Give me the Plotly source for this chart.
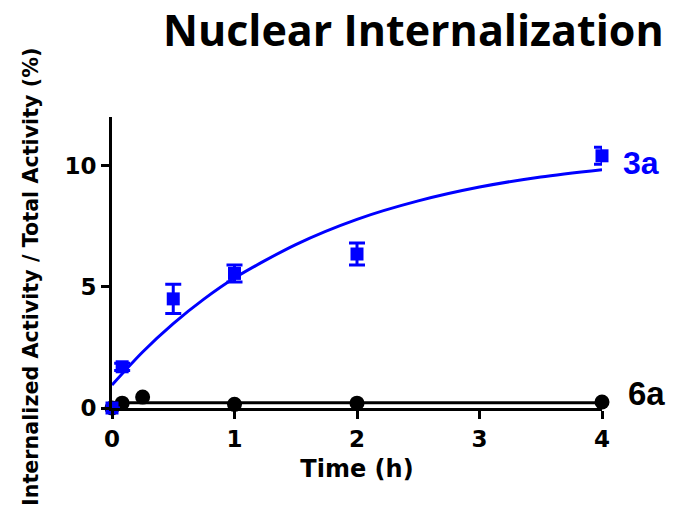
import plotly.graph_objects as go

# Time points (h) and internalized fraction (%) for each compound
time_3a = [0, 0.083, 0.5, 1, 2, 4]
mean_3a = [0, 1.7, 4.5, 5.55, 6.35, 10.4]
sd_3a = [0, 0.15, 0.6, 0.35, 0.45, 0.35]

time_6a = [0, 0.083, 0.25, 1, 2, 4]
mean_6a = [0, 0.2, 0.45, 0.15, 0.2, 0.25]

# Fitted curves (one-phase association for 3a, flat line for 6a)
fit_t_3a = [0, 0.25, 0.5, 0.75, 1, 1.5, 2, 2.5, 3, 3.5, 4]
fit_y_3a = [0.95, 2.31, 3.48, 4.49, 5.36, 6.74, 7.78, 8.54, 9.11, 9.53, 9.83]
fit_t_6a = [0, 4]
fit_y_6a = [0.22, 0.22]

x_ticks = [0, 1, 2, 3, 4]
y_ticks = [0, 5, 10]

BLUE = "#0000ff"
BLACK = "#000000"
TICK_FONT = dict(family="DejaVu Sans", size=23, color=BLACK, weight="bold")

fig = go.Figure()

fig.add_trace(go.Scatter(
    x=fit_t_6a, y=fit_y_6a, mode="lines", line=dict(color=BLACK, width=3),
    cliponaxis=False, showlegend=False))
fig.add_trace(go.Scatter(
    x=time_6a, y=mean_6a, mode="markers",
    marker=dict(symbol="circle", size=15, color=BLACK),
    cliponaxis=False, showlegend=False))

fig.add_trace(go.Scatter(
    x=fit_t_3a, y=fit_y_3a, mode="lines",
    line=dict(color=BLUE, width=3, shape="spline", smoothing=0.8),
    cliponaxis=False, showlegend=False))
fig.add_trace(go.Scatter(
    x=time_3a, y=mean_3a, mode="markers",
    marker=dict(symbol="square", size=13, color=BLUE),
    error_y=dict(type="data", array=sd_3a, color=BLUE, thickness=3, width=8),
    cliponaxis=False, showlegend=False))

fig.update_xaxes(
    range=[0, 4], tickvals=x_ticks, ticktext=[str(v) for v in x_ticks],
    showline=True, linecolor=BLACK, linewidth=3, mirror=False,
    ticks="outside", ticklen=8, tickwidth=2.5, tickcolor=BLACK,
    showgrid=False, zeroline=False, tickfont=TICK_FONT,
    title=dict(text="Time (h)", font=dict(family="DejaVu Sans", size=24,
                                          color=BLACK, weight="bold"),
               standoff=10))
fig.update_yaxes(
    range=[0, 12], tickvals=y_ticks, ticktext=[str(v) for v in y_ticks],
    showline=True, linecolor=BLACK, linewidth=3,
    ticks="outside", ticklen=8, tickwidth=2.5, tickcolor=BLACK,
    showgrid=False, zeroline=False, tickfont=TICK_FONT)

L, R, T, B = 112, 81, 117, 111
PW, PH = 683 - L - R, 519 - T - B

def px(xp):
    return (xp - L) / PW

def py(yp):
    return (519 - B - yp) / PH

annotations = [
    dict(text="Nuclear Internalization", x=px(413), y=py(30), xref="paper", yref="paper",
         xanchor="center", yanchor="middle", showarrow=False,
         font=dict(family="Open Sans", size=43, color=BLACK, weight="bold")),
    dict(text="Internalized Activity / Total Activity (%)", x=px(31), y=py(277),
         xref="paper", yref="paper", xanchor="center", yanchor="middle",
         textangle=-90, showarrow=False,
         font=dict(family="DejaVu Sans", size=20.7, color=BLACK, weight="bold")),
    dict(text="3a", x=px(621), y=py(163), xref="paper", yref="paper",
         xanchor="left", yanchor="middle", showarrow=False,
         font=dict(family="Liberation Sans", size=32, color=BLUE, weight="bold")),
    dict(text="6a", x=px(626), y=py(393), xref="paper", yref="paper",
         xanchor="left", yanchor="middle", showarrow=False,
         font=dict(family="Liberation Sans", size=33, color=BLACK, weight="bold")),
]

fig.update_layout(
    width=683, height=519, autosize=False,
    margin=dict(l=L, r=R, t=T, b=B),
    paper_bgcolor="white", plot_bgcolor="white",
    annotations=annotations,
)

fig.write_html("out.html")
